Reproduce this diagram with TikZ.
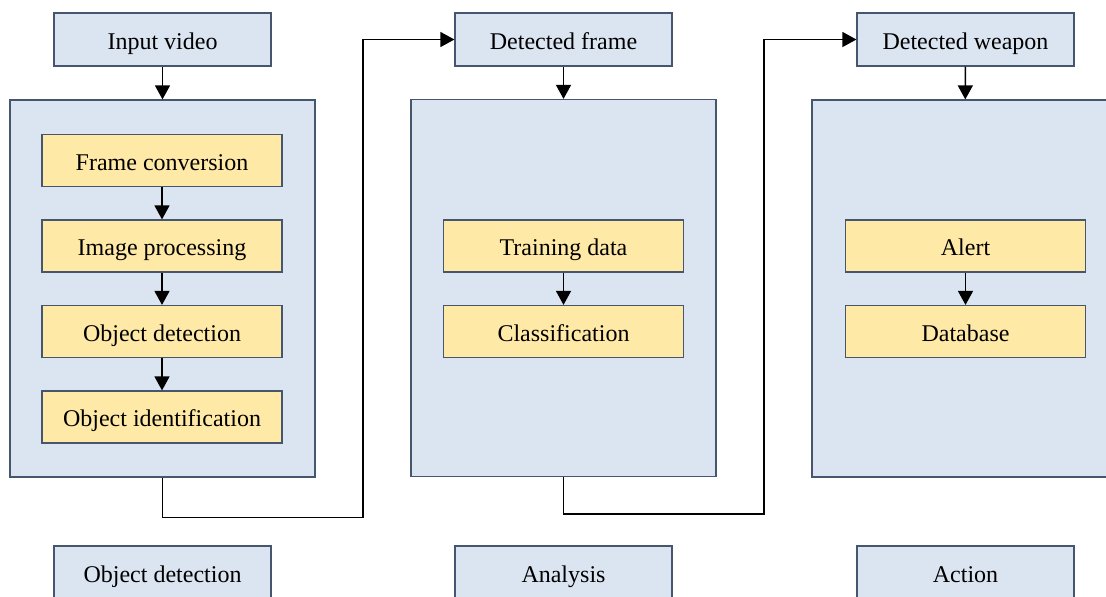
\documentclass[tikz,border=0pt]{standalone}
\usepackage{fontspec}
\setmainfont{Liberation Serif}
\usetikzlibrary{arrows.meta,calc}

\definecolor{stageblue}{RGB}{219,228,241}
\definecolor{stageedge}{RGB}{70,86,110}
\definecolor{stepyellow}{RGB}{255,233,166}

\def\onepx{0.5pt}
\tikzset{
  stagebox/.style={draw=stageedge,fill=stageblue,line width=0.6pt,inner sep=0pt,
    minimum width=217*\onepx,minimum height=53*\onepx,text height=9.5pt,text depth=0pt,
    font=\fontsize{12}{14}\selectfont},
  panelbox/.style={draw=stageedge,fill=stageblue,line width=0.6pt,inner sep=0pt,
    minimum width=305*\onepx,minimum height=377*\onepx},
  stepbox/.style={draw=stageedge,fill=stepyellow,line width=0.6pt,inner sep=0pt,
    minimum width=240*\onepx,minimum height=52*\onepx,text height=9.5pt,text depth=0pt,
    font=\fontsize{12}{14}\selectfont},
  flow/.style={line width=0.7pt,-{Triangle[length=7pt,width=7.5pt]}}
}

\begin{document}
\begin{tikzpicture}[x=0.5pt,y=-0.5pt]
      \useasboundingbox (0,0) rectangle (1106,596);

      % the three stage panels
      \node[panelbox] (detpanel) at (162.5,288.5) {};
      \node[panelbox] (anapanel) at (563.5,288) {};
      \node[panelbox] (actpanel) at (964.5,288.5) {};

      % inputs on top and stage names at the bottom
      \node[stagebox] (input) at (162.5,39.5) {Input video};
      \node[stagebox] (frame) at (563.5,39.5) {Detected frame};
      \node[stagebox] (weapon) at (965.5,39.5) {Detected weapon};

      \node[stagebox] (detname) at (162.5,572.5) {Object detection};
      \node[stagebox] (ananame) at (563.5,572.5) {Analysis};
      \node[stagebox] (actname) at (965.5,572.5) {Action};

      % steps inside the panels
      \foreach \y\name\txt in {160.5/conv/Frame conversion,246/proc/Image processing,331.5/objdet/Object detection,417/ident/Object identification} {
                  \node[stepbox] (\name) at (162,\y) {\txt};
            }
      \foreach \y\name\txt in {246/train/Training data,331.5/classif/Classification} {
                  \node[stepbox] (\name) at (563.5,\y) {\txt};
            }
      \foreach \y\name\txt in {246/alert/Alert,331.5/dbase/Database} {
                  \node[stepbox] (\name) at (965.5,\y) {\txt};
            }

      \draw[flow] (input) -- (detpanel);
      \draw[flow] (frame) -- (anapanel);
      \draw[flow] (weapon) -- (actpanel);

      \draw[flow] (conv) -- (proc);
      \draw[flow] (proc) -- (objdet);
      \draw[flow] (objdet) -- (ident);
      \draw[flow] (train) -- (classif);
      \draw[flow] (alert) -- (dbase);

      % hand over to the next stage
      \draw[flow] (detpanel.south) -- ++(0,40) -| ($(detpanel.east)!.5!(anapanel.west)$) |- (frame.west);
      \draw[flow] (anapanel.south) -- ++(0,37) -| ($(anapanel.east)!.5!(actpanel.west)$) |- (weapon.west);
\end{tikzpicture}
\end{document}
